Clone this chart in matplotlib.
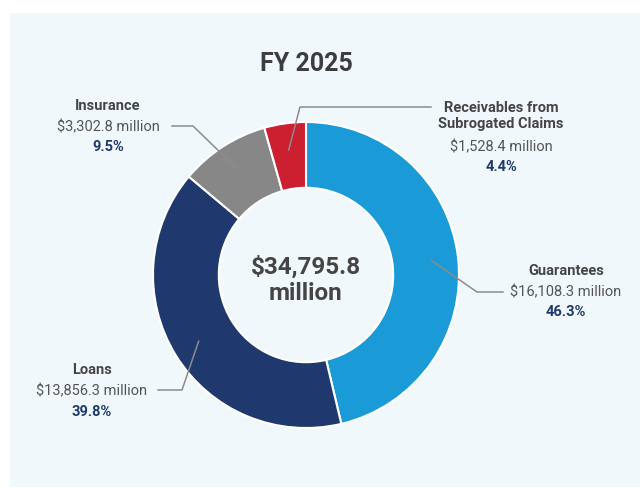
"""
Donut chart FY 2025 portfolio breakdown.
"""

import numpy as np
import matplotlib.pyplot as plt
from matplotlib.patches import Rectangle

plt.rcParams["font.family"] = ["Roboto", "DejaVu Sans"]

# --- data ---
categories = ["Guarantees", "Loans", "Insurance", "Receivables from\nSubrogated Claims"]
values_musd = [16108.3, 13856.3, 3302.8, 1528.4]
value_labels = ["$16,108.3 million", "$13,856.3 million", "$3,302.8 million", "$1,528.4 million"]
pct_labels = ["46.3%", "39.8%", "9.5%", "4.4%"]
total_label = "$34,795.8\nmillion"
title = "FY 2025"

colors = ["#1a9bd7", "#1f386d", "#878787", "#cc1f30"]
BG = "#f1f8fb"
TXT = "#454545"
NAVY = "#1f386d"
LINE = "#8c8c8c"

W, H = 640, 488
fig = plt.figure(figsize=(W / 100, H / 100), dpi=100)
fig.patch.set_facecolor("white")
ax = fig.add_axes([0, 0, 1, 1])

# panel de fundo
ax.add_patch(Rectangle((10, 1), W - 10, H - 14, facecolor=BG, edgecolor="none", zorder=0))

cx, cy, R = 306, H - 275, 153
ring = 0.43
wedges, _ = ax.pie(values_musd, colors=colors, startangle=90, counterclock=False,
                   center=(cx, cy), radius=R, frame=True,
                   wedgeprops=dict(width=R * ring, edgecolor="white", linewidth=1.5))
ax.set_xlim(0, W)
ax.set_ylim(0, H)
ax.set_aspect("equal")
ax.axis("off")

ax.text(cx, H - 64, title, ha="center", va="center", fontsize=18, fontweight="bold", color="#3d3d3d")
ax.text(cx, H - 280, total_label, ha="center", va="center", fontsize=17.5, fontweight="bold",
        color=TXT, linespacing=1.2)

# layout dos rótulos: (centro x, y do nome, y do valor, y da %), cotovelo e fim da linha
label_pos = [
    (566, 271, 292, 312),
    (92, 370, 391, 412),
    (108, 106, 127, 147),
    (501, 116, 147, 167),
]
elbows = [(477, 292), (182, 390), (193, 126), (300, 107)]
line_ends = [(503, 292), (158, 390), (172, 126), (431, 107)]

for i, w in enumerate(wedges):
    ang = np.deg2rad((w.theta1 + w.theta2) / 2)
    r0 = R - R * ring / 2 + 6
    x0, y0 = cx + r0 * np.cos(ang), cy + r0 * np.sin(ang)
    ex, ey = elbows[i]
    lx, ly = line_ends[i]
    ax.plot([x0, ex, lx], [y0, H - ey, H - ly], color=LINE, linewidth=1.1, zorder=5)

    xc, yn, yv, yp = label_pos[i]
    ax.text(xc, H - yn, categories[i], ha="center", va="center", fontsize=10.5, fontweight="bold",
            color=TXT, linespacing=1.2)
    ax.text(xc, H - yv, value_labels[i], ha="center", va="center", fontsize=10.5, color="#555555")
    ax.text(xc, H - yp, pct_labels[i], ha="center", va="center", fontsize=10.5, fontweight="bold",
            color=NAVY)

fig.savefig("out.png", dpi=100, facecolor=fig.get_facecolor())
